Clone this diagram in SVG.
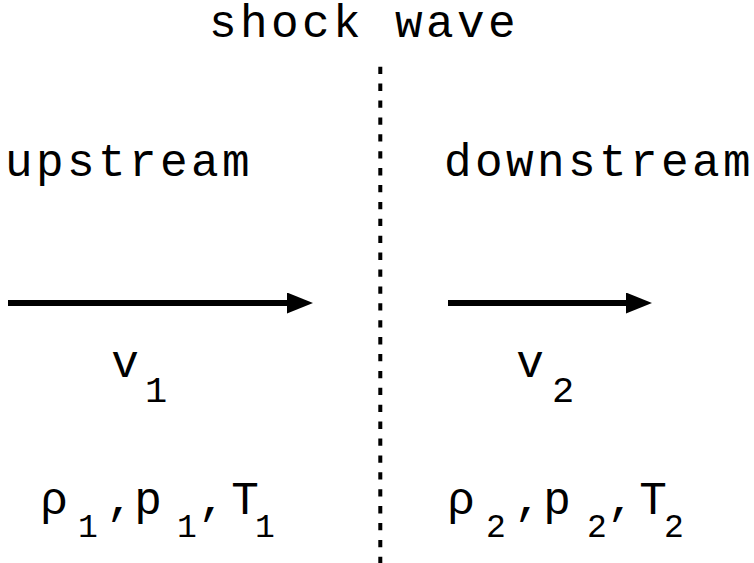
<svg xmlns="http://www.w3.org/2000/svg" width="754" height="563" viewBox="0 0 754 563">
<defs>
<style>
.t{font-family:"Liberation Mono","DejaVu Sans Mono",monospace;fill:#000}
.lbl{font-size:46px;letter-spacing:3.4px}
.row{font-size:46px;text-anchor:middle}
.s{font-size:33px}
.sv{font-size:37px}
.arr{stroke:#000;stroke-width:6;fill:none}
.shock{stroke:#000;stroke-width:4;stroke-dasharray:7.3 9.6;fill:none}
</style>
<marker id="head" markerUnits="userSpaceOnUse" markerWidth="27" markerHeight="22" refX="0" refY="10.5" orient="auto" viewBox="0 0 27 22">
<path d="M0,0 L26,10.5 L0,21 z" fill="#000"/>
</marker>
</defs>
<rect width="754" height="563" fill="#fff"/>
<g id="connectors">
<line id="shock-line" class="shock" x1="380.3" y1="66.7" x2="380.3" y2="563"/>
<line id="arrow-v1" class="arr" x1="8" y1="303" x2="287" y2="303" marker-end="url(#head)"/>
<line id="arrow-v2" class="arr" x1="448" y1="303" x2="626" y2="303" marker-end="url(#head)"/>
</g>
<g id="title"><text class="t lbl" x="209" y="37">shock wave</text></g>
<g id="upstream"><text class="t lbl" x="5" y="176">upstream</text></g>
<g id="downstream"><text class="t lbl" x="444" y="176">downstream</text></g>
<g id="v1">
<text class="t row"><tspan x="125" y="377">v</tspan><tspan class="sv" x="156" y="402">1</tspan></text>
</g>
<g id="v2">
<text class="t row"><tspan x="530" y="377">v</tspan><tspan class="sv" x="563" y="402">2</tspan></text>
</g>
<g id="state1">
<text class="t row"><tspan x="54" y="514">ρ</tspan><tspan class="s" x="88" y="537">1</tspan><tspan x="120" y="514">,</tspan><tspan x="148" y="514">p</tspan><tspan class="s" x="187" y="537">1</tspan><tspan x="212" y="514">,</tspan><tspan x="245" y="514">T</tspan><tspan class="s" x="265" y="537">1</tspan></text>
</g>
<g id="state2">
<text class="t row"><tspan x="461" y="514">ρ</tspan><tspan class="s" x="496" y="537">2</tspan><tspan x="528" y="514">,</tspan><tspan x="557" y="514">p</tspan><tspan class="s" x="597" y="537">2</tspan><tspan x="621" y="514">,</tspan><tspan x="653" y="514">T</tspan><tspan class="s" x="674" y="537">2</tspan></text>
</g>
</svg>
